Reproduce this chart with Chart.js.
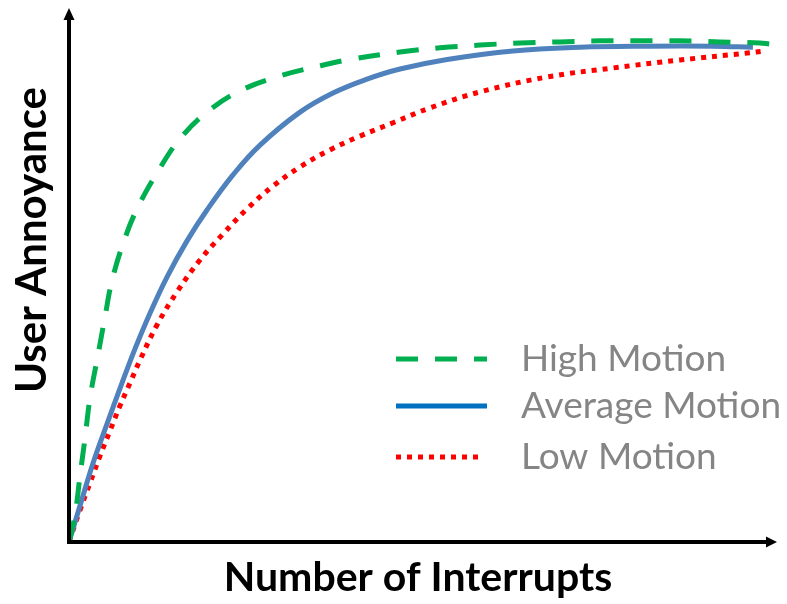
<!DOCTYPE html>
<html>
<head>
<meta charset="utf-8">
<script src="https://cdn.jsdelivr.net/npm/chart.js@4/dist/chart.umd.min.js"></script>
<style>
  html, body { margin: 0; padding: 0; background: #fff; }
  #wrap { width: 787px; height: 604px; position: relative; }
</style>
</head>
<body>
<div id="wrap"><canvas id="c" width="787" height="604"></canvas></div>
<script>
// Number of interrupts (relative units, 0-100) vs. user annoyance (relative units, 0-100)
const highX = [0, 0.85, 1.55, 2.26, 2.97, 4.10, 5.08, 6.07, 7.77, 9.75, 12.85, 15.68, 19.49, 24.15, 29.8, 35.45, 40.1, 46.75, 52.4, 58.05, 63.7, 69.35, 75.0, 80.65, 86.3, 91.95, 97.6, 98.9];
const highY = [0, 5.1, 12.4, 19.5, 27.1, 35.2, 42.3, 49.1, 56.6, 63.0, 70.3, 75.8, 80.8, 84.8, 87.6, 89.5, 90.8, 92.1, 92.9, 93.4, 93.8, 94.0, 94.2, 94.2, 94.2, 94.0, 93.8, 93.6];

const avgX = [0, 1.55, 3.39, 5.37, 7.49, 9.32, 11.44, 13.84, 16.67, 19.49, 23.16, 26.98, 32.63, 37.29, 42.09, 46.75, 53.4, 62.7, 72.2, 81.6, 91.0, 96.6];
const avgY = [0, 6.8, 14.8, 22.2, 29.9, 36.3, 43.0, 49.8, 56.6, 62.4, 69.0, 74.6, 80.8, 84.4, 87.0, 88.9, 90.7, 92.3, 93.0, 93.2, 93.2, 93.0];

const lowX = [0, 1.55, 2.97, 4.38, 5.79, 7.20, 8.62, 10.03, 12.43, 15.25, 18.5, 21.75, 25.14, 28.81, 32.63, 36.86, 41.1, 45.76, 50.99, 58.05, 67.5, 76.8, 86.3, 95.8, 98.3];
const lowY = [0, 6.0, 11.1, 16.2, 20.9, 25.6, 29.9, 34.2, 40.8, 47.0, 53.0, 57.9, 62.6, 66.9, 70.5, 73.7, 76.3, 78.8, 81.6, 84.6, 87.4, 89.1, 90.6, 91.9, 92.3];

const seriesLabels = ['High Motion', 'Average Motion', 'Low Motion'];
const xTitle = 'Number of Interrupts';
const yTitle = 'User Annoyance';

const toPts = (xs, ys) => xs.map((x, i) => ({ x: x, y: ys[i] }));

const legendColors = ['#00b050', '#0070c0', '#ff0000'];

const decor = {
  id: 'decor',
  afterDatasetsDraw(chart) {
    const ctx = chart.ctx;
    const xs = chart.scales.x, ys = chart.scales.y;
    const x0 = xs.getPixelForValue(0), y0 = ys.getPixelForValue(0);
    const xEnd = xs.right, yTop = ys.top;
    ctx.save();
    // axes
    ctx.strokeStyle = '#000';
    ctx.fillStyle = '#000';
    ctx.lineWidth = 4;
    ctx.lineCap = 'butt';
    ctx.beginPath();
    ctx.moveTo(x0 - 2, y0);
    ctx.lineTo(xEnd - 8, y0);
    ctx.moveTo(x0, y0 + 2);
    ctx.lineTo(x0, yTop + 8);
    ctx.stroke();
    // arrow heads
    ctx.beginPath();
    ctx.moveTo(xEnd, y0);
    ctx.lineTo(xEnd - 11, y0 - 5.5);
    ctx.lineTo(xEnd - 11, y0 + 5.5);
    ctx.closePath();
    ctx.fill();
    ctx.beginPath();
    ctx.moveTo(x0, yTop - 2);
    ctx.lineTo(x0 - 5.5, yTop + 10);
    ctx.lineTo(x0 + 5.5, yTop + 10);
    ctx.closePath();
    ctx.fill();
    // titles
    ctx.font = 'bold 41px Lato';
    ctx.textAlign = 'center';
    ctx.textBaseline = 'middle';
    ctx.fillText(xTitle, 418, 578);
    ctx.save();
    ctx.translate(32, 240);
    ctx.rotate(-Math.PI / 2);
    ctx.font = 'bold 42px Lato';
    ctx.fillText(yTitle, 0, 0);
    ctx.restore();
    // legend
    const rows = [359, 406, 457];
    chart.data.datasets.forEach((ds, i) => {
      const y = rows[i];
      ctx.save();
      ctx.strokeStyle = legendColors[i];
      ctx.lineWidth = ds.borderWidth;
      ctx.setLineDash(ds.borderDash || []);
      ctx.beginPath();
      ctx.moveTo(396, y);
      ctx.lineTo(i === 2 ? 483 : 487, y);
      ctx.stroke();
      ctx.restore();
      ctx.font = '37px Lato';
      ctx.fillStyle = '#858585';
      ctx.textAlign = 'left';
      ctx.textBaseline = 'middle';
      ctx.fillText(ds.label, 521, y);
    });
    ctx.restore();
  }
};

new Chart(document.getElementById('c'), {
  type: 'line',
  data: {
    datasets: [
      { label: seriesLabels[0], data: toPts(highX, highY), borderColor: '#00b050', borderWidth: 5, borderDash: [22, 17], pointRadius: 0, tension: 0.4, fill: false },
      { label: seriesLabels[1], data: toPts(avgX, avgY), borderColor: '#4f81bd', borderWidth: 5, pointRadius: 0, tension: 0.4, fill: false },
      { label: seriesLabels[2], data: toPts(lowX, lowY), borderColor: '#ff0000', borderWidth: 5, borderDash: [5, 6], pointRadius: 0, tension: 0.4, fill: false }
    ]
  },
  options: {
    responsive: false,
    animation: false,
    layout: { padding: { left: 69, right: 10, top: 10, bottom: 62 } },
    scales: {
      x: { type: 'linear', min: 0, max: 100, display: false },
      y: { type: 'linear', min: 0, max: 100, display: false }
    },
    plugins: { legend: { display: false }, tooltip: { enabled: false } },
    elements: { line: { borderCapStyle: 'butt' } }
  },
  plugins: [decor]
});
</script>
</body>
</html>
